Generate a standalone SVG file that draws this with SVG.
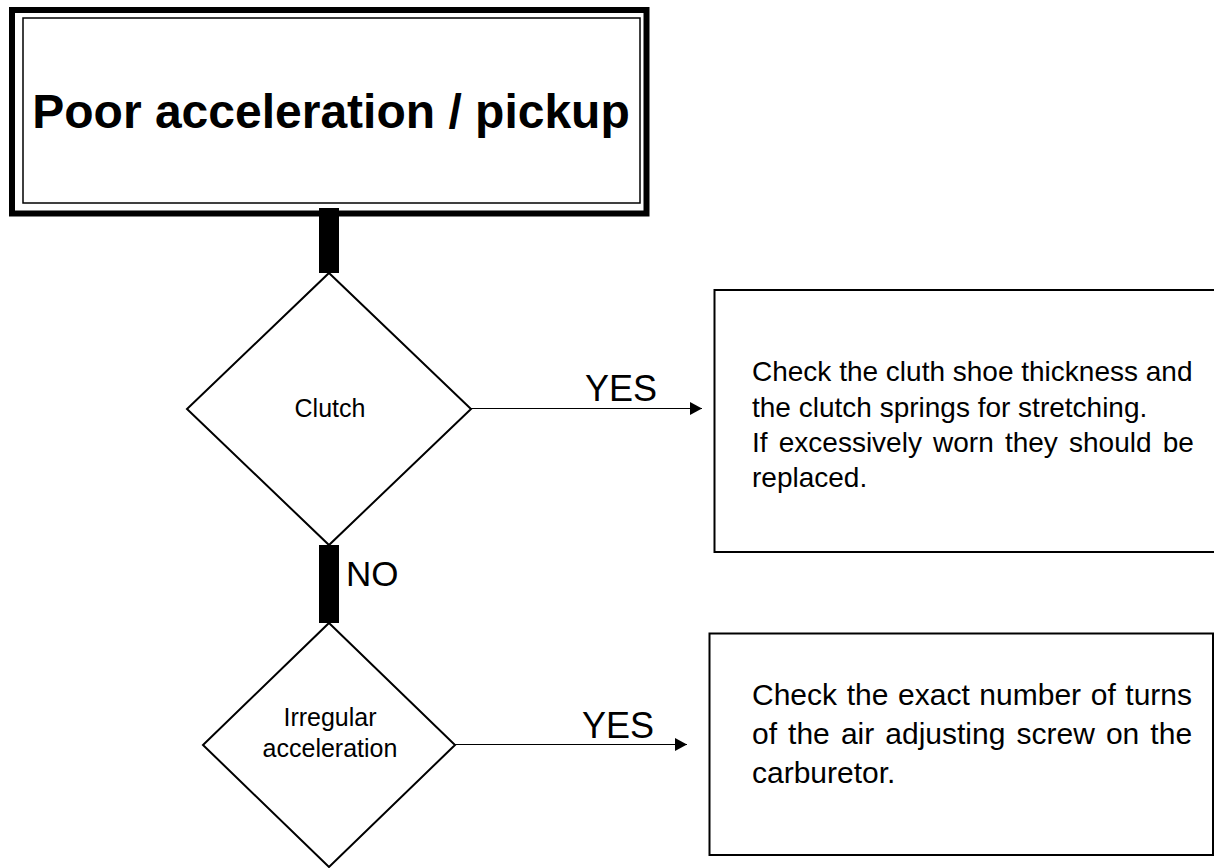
<svg xmlns="http://www.w3.org/2000/svg" width="1214" height="868" viewBox="0 0 1214 868">
  <style>
    .t { font-family: "Liberation Sans", Arial, sans-serif; fill: #000; }
    .title { font-size: 48px; font-weight: bold; }
    .lbl { font-size: 36px; }
    .dtext { font-size: 25px; }
    .b1 { font-size: 28px; }
    .b2 { font-size: 30px; }
    .shape { fill: #fff; stroke: #000; stroke-width: 2; }
    .bar { fill: #000; }
    .arrow { stroke: #000; stroke-width: 1.2; fill: none; }
  </style>
  <defs>
    <marker id="ah" markerUnits="userSpaceOnUse" markerWidth="12" markerHeight="13" refX="12" refY="6.5" orient="auto">
      <path d="M0,0 L12,6.5 L0,13 z" fill="#000"/>
    </marker>
  </defs>
  <rect width="1214" height="868" fill="#fff"/>

  <g id="title-box">
    <rect x="12" y="10" width="634.5" height="203.5" fill="#fff" stroke="#000" stroke-width="6"/>
    <rect x="23" y="18" width="617" height="185" fill="none" stroke="#000" stroke-width="1.5"/>
    <text class="t title" x="331" y="128" text-anchor="middle">Poor acceleration / pickup</text>
  </g>

  <g id="decision-clutch">
    <polygon class="shape" points="329,273 471,409 329,545 187,409"/>
    <text class="t dtext" x="330" y="417" text-anchor="middle">Clutch</text>
  </g>

  <g id="decision-irregular">
    <polygon class="shape" points="329,623 455,745 329,867 203,745"/>
    <text class="t dtext" x="330" y="726" text-anchor="middle">Irregular</text>
    <text class="t dtext" x="330" y="757" text-anchor="middle">acceleration</text>
  </g>

  <g id="action-clutch">
    <rect class="shape" x="714.5" y="290" width="502" height="262"/>
    <text class="t b1" x="752" y="381">Check the cluth shoe thickness and</text>
    <text class="t b1" x="752" y="417">the clutch springs for stretching.</text>
    <text class="t b1" x="752" y="452" word-spacing="3.4">If excessively worn they should be</text>
    <text class="t b1" x="752" y="487">replaced.</text>
  </g>

  <g id="action-carburetor">
    <rect class="shape" x="709.5" y="633.5" width="503.5" height="221.5"/>
    <text class="t b2" x="752" y="705" word-spacing="1.3">Check the exact number of turns</text>
    <text class="t b2" x="752" y="743.5" word-spacing="2.75">of the air adjusting screw on the</text>
    <text class="t b2" x="752" y="782.5">carburetor.</text>
  </g>

  <g id="connectors">
    <rect class="bar" x="319" y="208" width="20" height="65"/>
    <rect class="bar" x="319" y="545" width="20" height="78"/>
    <line class="arrow" x1="471" y1="408.5" x2="702" y2="408.5" marker-end="url(#ah)"/>
    <line class="arrow" x1="455" y1="744.5" x2="687" y2="744.5" marker-end="url(#ah)"/>
    <text class="t lbl" x="585" y="401">YES</text>
    <text class="t lbl" x="582" y="738">YES</text>
    <text class="t" style="font-size:35px" x="346" y="586">NO</text>
  </g>
</svg>
